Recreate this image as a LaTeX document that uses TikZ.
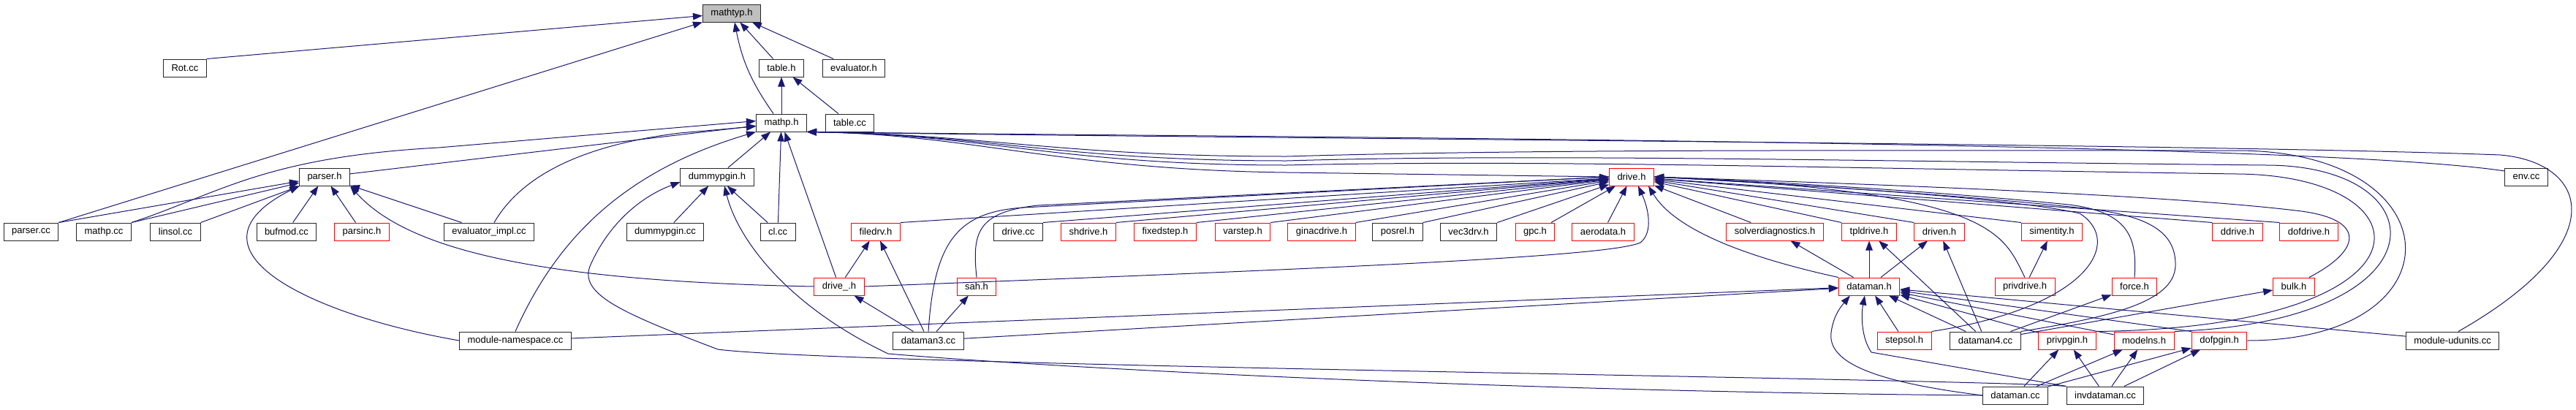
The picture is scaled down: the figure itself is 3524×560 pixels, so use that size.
\documentclass[tikz,border=0pt]{standalone}
\usepackage{fontspec}
\setmainfont{Liberation Sans}
\usetikzlibrary{arrows.meta}
\definecolor{midnight}{HTML}{191970}

\begin{document}
\begin{tikzpicture}
[x=1pt,y=-1pt,
% Styles
file/.style={draw=black!85,line width=1pt,fill=white,minimum height=24pt,
  inner xsep=11pt,inner ysep=0pt,font=\fontsize{13}{15}\selectfont},
missing file/.style={file,draw=red},
this file/.style={file,fill=black!25},
dep/.style={draw=depcolor,line width=1pt,-{Triangle[length=13pt,width=9.5pt]}}]
% Colors
\colorlet{depcolor}{midnight}
\useasboundingbox (0,0) rectangle (3524,560);
% The files
\node[this file] (mathtyp) at (1001,18) {mathtyp.h};
\foreach \fname/\px/\py/\ftext in {rot/253/93/Rot.cc, tableh/1069/93/table.h,
  evalh/1168/93/evaluator.h, mathp/1069/168/mathp.h, tablecc/1162.5/168/table.cc,
  parserh/444/242/parser.h, dummyh/981/242/dummypgin.h, envcc/3456/242/env.cc,
  parsercc/42.5/317/parser.cc, mathpcc/142/317/mathp.cc, linsol/240/317/linsol.cc,
  bufmod/392/317/bufmod.cc, evalimpl/669/317/evaluator\_impl.cc,
  dummycc/910/317/dummypgin.cc, clcc/1064/317/cl.cc, drivecc/1393/317/drive.cc,
  posrel/1912/317/posrel.h, vecdrv/2009/317/vec3drv.h,
  modns/705/466/module-namespace.cc, dmthree/1270/466/dataman3.cc,
  dmfour/2716/466/dataman4.cc, udunits/3355/466/module-udunits.cc,
  dmcc/2757/541/dataman.cc, invdm/2880/541/invdataman.cc}
  \node[file] (\fname) at (\px,\py) {\ftext};
\foreach \fname/\px/\py/\ftext in {drive/2232/242/drive.h, parsinc/495/317/parsinc.h,
  filedrv/1198/317/filedrv.h, shdrive/1489/317/shdrive.h, fixedstep/1594/317/fixedstep.h,
  varstep/1700/317/varstep.h, ginac/1808/317/ginacdrive.h, gpc/2100/317/gpc.h,
  aero/2193/317/aerodata.h, solverdiag/2428/317/solverdiagnostics.h,
  tpldrive/2557/317/tpldrive.h, driven/2653/317/driven.h, simentity/2807/317/simentity.h,
  ddrive/3061/317/ddrive.h, dofdrive/3158.5/317/dofdrive.h,
  driveu/1148/392/drive\_.h, sah/1336/392/sah.h, dmh/2557/392/dataman.h,
  privdrive/2770/392/privdrive.h, force/2920/392/force.h, bulk/3138/392/bulk.h,
  stepsol/2605/466/stepsol.h, privpgin/2828/466/privpgin.h,
  modelns/2933/466/modelns.h, dofpgin/3036/466/dofpgin.h}
  \node[missing file] (\fname) at (\px,\py) {\ftext};
% Straight dependencies
\foreach \a/\b in {tableh/mathtyp, evalh/mathtyp, mathp/tableh, tablecc/tableh,
  parserh/mathp, dummyh/mathp, clcc/mathp, driveu/mathp,
  bufmod/parserh, parsinc/parserh, evalimpl/parserh, dummycc/dummyh, clcc/dummyh,
  dmthree/driveu, driveu/filedrv, dmthree/filedrv, dmthree/sah,
  gpc/drive, aero/drive, solverdiag/drive,
  dmh/solverdiag, dmh/tpldrive, dmh/driven, dmfour/tpldrive, dmfour/driven,
  privdrive/simentity, modns/dmh, dmthree/dmh, stepsol/dmh, dmfour/dmh,
  privpgin/dmh, modelns/dmh, udunits/dmh, dmfour/force, dmfour/bulk,
  dmcc/privpgin, invdm/privpgin, dmcc/modelns, invdm/modelns, dmcc/dofpgin, invdm/dofpgin}
  \draw[dep] (\a) -- (\b);
\foreach \a/\b in {rot/mathtyp, parsercc/mathtyp, parsercc/parserh, mathpcc/parserh,
  linsol/parserh, filedrv/drive, drivecc/drive, shdrive/drive, fixedstep/drive,
  varstep/drive, ginac/drive, posrel/drive, vecdrv/drive}
  \draw[dep] (\a.north east) -- (\b);
\foreach \a/\b in {tpldrive/drive, driven/drive, simentity/drive, ddrive/drive,
  dofdrive/drive, dofpgin/dmh}
  \draw[dep] (\a.north west) -- (\b);
% Curved dependencies, left part
\draw[dep] ([xshift=-11pt]mathp.north) to[bend left=12] ([xshift=4pt]mathtyp.south);
\draw[dep] (mathpcc.north east) .. controls (300,265) and (360,215) .. (600,202) -- (mathp.176);
\draw[dep] ([xshift=7pt]evalimpl.north) .. controls (705,255) and (770,202) .. (930,182) -- (mathp.188);
\draw[dep] (modns.north) .. controls (760,330) and (850,235) .. (mathp.south west);
\draw[dep] (modns.west) .. controls (420,430) and (240,340) .. (parserh.south west);
\draw[dep] (driveu.west) .. controls (750,385) and (560,345) .. (parserh.south east);
\draw[dep] (invdm.north west) .. controls (2700,518) and (1150,500) .. (982,478)
  .. controls (850,428) and (790,402) .. (808,362)
  .. controls (835,302) and (880,268) .. ([yshift=-7pt]dummyh.west);
\draw[dep] (dmcc.west) .. controls (2000,535) and (1400,500) .. (1215,484)
  .. controls (1080,420) and (1010,330) .. ([xshift=10pt]dummyh.south);
% Into mathp.h from the right
\draw[dep] (drive.west) -- (1760,236) .. controls (1450,232) and (1330,184) .. (mathp.south east);
\draw[dep] ([yshift=8pt]envcc.west) .. controls (3150,192) and (1700,188) .. (mathp.south east);
\draw[dep] ([xshift=8pt]udunits.north) .. controls (3580,330) and (3540,222) .. (3420,212)
  .. controls (3000,196) and (1700,190) .. (mathp.south east);
\draw[dep] (privpgin.north east) .. controls (3345,448) and (3330,240) .. (3060,238)
  .. controls (2500,230) and (2100,218) .. (1760,226)
  .. controls (1450,226) and (1350,184) .. (mathp.south east);
\draw[dep] (modelns.north east) .. controls (3350,440) and (3340,226) .. (3100,226)
  .. controls (2500,220) and (2100,210) .. (1760,220)
  .. controls (1450,220) and (1350,184) .. (mathp.south east);
\draw[dep] (dofpgin.east) .. controls (3370,466) and (3360,206) .. (3060,206)
  .. controls (2500,206) and (2100,204) .. (1760,214)
  .. controls (1450,214) and (1350,184) .. (mathp.south east);
% Into drive.h
\draw[dep] (dmthree.north) .. controls (1278,330) and (1310,290) .. (1400,284) -- (drive.west);
\draw[dep] (sah.north) .. controls (1330,320) and (1335,290) .. (1420,281) -- (drive.west);
\draw[dep] (driveu.east) .. controls (1800,368) and (2200,352) .. (2244,332)
  .. controls (2262,318) and (2255,285) .. ([xshift=9pt]drive.south);
\draw[dep] (dmh.north west) .. controls (2380,350) and (2290,312) .. ([xshift=-8pt]drive.south east);
\draw[dep] (privdrive.north) .. controls (2740,320) and (2730,262) .. (drive.east);
\draw[dep] (stepsol.north east) .. controls (2860,420) and (2905,330) .. (2845,292)
  .. controls (2750,270) and (2450,252) .. (drive.east);
\draw[dep] (force.north) .. controls (2924,325) and (2912,290) .. (2830,280)
  .. controls (2650,262) and (2450,250) .. (drive.east);
\draw[dep] (dmfour.north east) .. controls (2900,432) and (2978,410) .. (2976,360)
  .. controls (2975,318) and (2940,296) .. (2860,286)
  .. controls (2700,268) and (2450,252) .. (drive.east);
\draw[dep] ([xshift=-8pt]bulk.north east) .. controls (3235,340) and (3235,298) .. (3140,288)
  .. controls (2950,265) and (2500,250) .. (drive.east);
% Into dataman.h from below
\draw[dep] (dmcc.west) .. controls (2560,522) and (2500,495) .. (2505,455)
  .. controls (2508,432) and (2518,420) .. ([xshift=16pt]dmh.south west);
\draw[dep] (invdm.north west) -- (2560,482) .. controls (2546,462) and (2546,430) .. ([xshift=-6pt]dmh.south);
\end{tikzpicture}
\end{document}
